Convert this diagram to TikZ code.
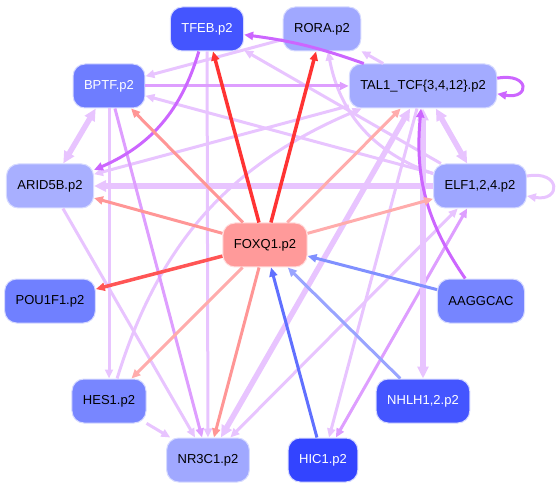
\documentclass[tikz,border=0pt]{standalone}
\usepackage{fontspec}
\setmainfont{Liberation Sans}
\usetikzlibrary{arrows.meta}

\definecolor{nodeline}{RGB}{214,218,255}
\definecolor{lavlight}{RGB}{232,196,255}
\definecolor{lavmid}{RGB}{222,158,255}
\definecolor{violetline}{RGB}{204,102,255}
\definecolor{redstrong}{RGB}{255,51,51}
\definecolor{redmid}{RGB}{255,85,85}
\definecolor{salmonline}{RGB}{255,150,150}
\definecolor{salmonpale}{RGB}{255,172,172}
\definecolor{bluedark}{RGB}{96,112,255}
\definecolor{bluemid}{RGB}{128,144,255}
\definecolor{bluepale}{RGB}{153,164,255}
\definecolor{fillTFEB}{RGB}{68,85,255}
\definecolor{fillRORA}{RGB}{160,168,255}
\definecolor{fillBPTF}{RGB}{110,125,255}
\definecolor{fillTAL}{RGB}{163,171,255}
\definecolor{fillARID}{RGB}{168,175,255}
\definecolor{fillELF}{RGB}{157,166,255}
\definecolor{fillFOXQ}{RGB}{255,154,154}
\definecolor{fillPOU}{RGB}{112,128,255}
\definecolor{fillAAG}{RGB}{118,133,255}
\definecolor{fillHES}{RGB}{120,134,255}
\definecolor{fillNHLH}{RGB}{68,85,255}
\definecolor{fillNR}{RGB}{160,168,255}
\definecolor{fillHIC}{RGB}{51,68,255}

\begin{document}
\begin{tikzpicture}[
    x=1pt,y=-1pt,
    >={Triangle[length=9pt,width=8pt]},
    gene/.style={draw=nodeline,line width=1pt,rounded corners=12pt,minimum width=68pt,minimum height=44pt,inner xsep=11pt,font=\fontsize{13}{15}\selectfont},
    lavedge/.style={draw=lavlight,line width=3pt},
    lavwide/.style={draw=lavlight,line width=5.5pt,>={Triangle[length=12pt,width=11pt]}},
    midedge/.style={draw=lavmid,line width=3pt},
    violetedge/.style={draw=violetline,line width=3pt},
    rededge/.style={draw=redstrong,line width=3.5pt},
    salmonedge/.style={draw=salmonline,line width=3pt},
    paleedge/.style={draw=salmonpale,line width=3pt},
    blueedge/.style={line width=3pt}
]
\useasboundingbox (0,0) rectangle (557,489);

\node[gene,fill=fillTFEB,text=white] (TFEB) at (207,29) {TFEB.p2};
\node[gene,fill=fillRORA] (RORA) at (322,29) {RORA.p2};
\node[gene,fill=fillBPTF,text=white] (BPTF) at (109,86) {BPTF.p2};
\node[gene,fill=fillTAL] (TAL1) at (423,86) {TAL1\_TCF\{3,4,12\}.p2};
\node[gene,fill=fillARID] (ARID5B) at (50,186) {ARID5B.p2};
\node[gene,fill=fillELF] (ELF) at (480,186) {ELF1,2,4.p2};
\node[gene,fill=fillFOXQ,draw=salmonpale!40] (FOXQ1) at (265,245) {FOXQ1.p2};
\node[gene,fill=fillPOU] (POU1F1) at (50,301) {POU1F1.p2};
\node[gene,fill=fillAAG] (AAGGCAC) at (481,301) {AAGGCAC};
\node[gene,fill=fillHES] (HES1) at (109,401) {HES1.p2};
\node[gene,fill=fillNHLH,text=white] (NHLH) at (423,401) {NHLH1,2.p2};
\node[gene,fill=fillNR] (NR3C1) at (208,460) {NR3C1.p2};
\node[gene,fill=fillHIC,text=white] (HIC1) at (323,460) {HIC1.p2};

\draw[lavedge,->]
(RORA) to (BPTF);
\draw[lavedge,->]
(ELF) to (BPTF);
\draw[lavedge,->]
(ELF) to (TFEB);
\draw[lavedge,->]
(TAL1) to (RORA);
\draw[lavedge,->,bend left=30]
(ELF) to (RORA);
\draw[lavedge,->,bend left=25]
(HES1) to (TAL1);
\draw[lavedge,->]
(TAL1) to (ARID5B);
\draw[lavwide,->]
(ELF) to (ARID5B);
\draw[lavwide,<->]
(BPTF) to (ARID5B);
\draw[lavedge,->]
(BPTF) to (HES1);
\draw[midedge,->]
(BPTF) to (NR3C1);
\draw[lavedge,->]
(TFEB) to (NR3C1);
\draw[lavedge,->]
(ARID5B) to (NR3C1);
\draw[lavwide,<->]
(TAL1) to (NR3C1);
\draw[lavedge,<->]
(ELF) to (NR3C1);
\draw[lavedge,->]
(HES1) to (NR3C1);
\draw[lavedge,->]
(TAL1) to (HIC1);
\draw[midedge,<->]
(ELF) to (HIC1);
\draw[lavwide,<->]
(TAL1) to (NHLH);
\draw[lavwide,<->]
(TAL1) to (ELF);
\draw[lavedge,->]
(ELF.12) to[out=10,in=-10,looseness=4.5] (ELF.-12);

\draw[midedge,->]
(BPTF) to (TAL1);
\draw[violetedge,->,bend right=6]
(TAL1) to (TFEB);
\draw[violetedge,->,bend left=25]
(TFEB) to (ARID5B);
\draw[violetedge,->,bend left=20]
(AAGGCAC) to (TAL1);
\draw[violetedge,->]
(TAL1.6) to[out=10,in=-10,looseness=5.5] (TAL1.-6);

\draw[rededge,->]
(FOXQ1) to (TFEB);
\draw[rededge,->]
(FOXQ1) to (RORA);
\draw[rededge,draw=redmid,->]
(FOXQ1) to (POU1F1);
\draw[salmonedge,->]
(FOXQ1) to (BPTF);
\draw[salmonedge,->]
(FOXQ1) to (ARID5B);
\draw[salmonedge,->]
(FOXQ1) to (NR3C1);
\draw[paleedge,->]
(FOXQ1) to (HES1);
\draw[paleedge,->]
(FOXQ1) to (TAL1);
\draw[paleedge,->]
(FOXQ1) to (ELF);

\draw[blueedge,draw=bluedark,->]
(HIC1) to (FOXQ1);
\draw[blueedge,draw=bluepale,->]
(NHLH) to (FOXQ1);
\draw[blueedge,draw=bluemid,->]
(AAGGCAC) to (FOXQ1);

\end{tikzpicture}
\end{document}
